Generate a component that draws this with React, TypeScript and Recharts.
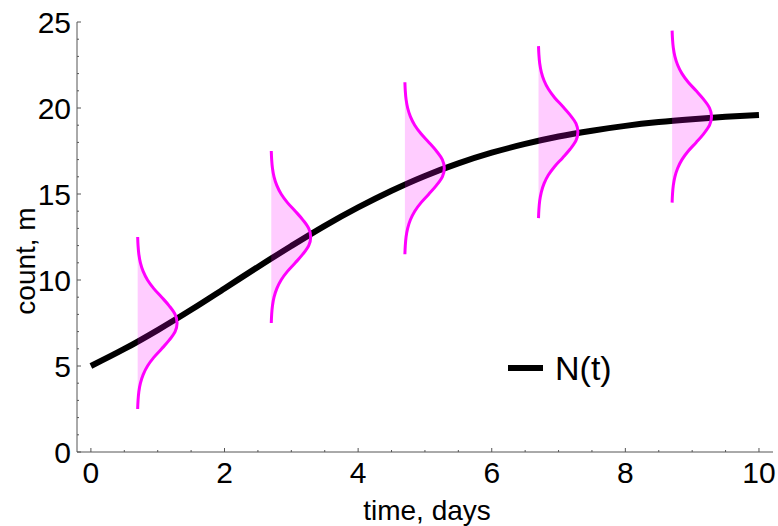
import React from 'react';
import { ComposedChart, Line, Scatter, XAxis, YAxis, Legend, Curve } from 'recharts';

// N(t) curve
const days = [0, 0.5, 1, 1.5, 2, 2.5, 3, 3.5, 4, 4.5, 5, 5.5, 6, 6.5, 7, 7.5, 8, 8.5, 9, 9.5, 10];
const counts = [5.0, 5.99, 7.09, 8.27, 9.51, 10.76, 11.98, 13.15, 14.22, 15.19, 16.05, 16.78, 17.4, 17.91, 18.34, 18.68, 18.96, 19.18, 19.35, 19.49, 19.6];

// distributions (magenta)
const distTimes = [0.7, 2.7, 4.7, 6.7, 8.7];
const distCenters = [7.5, 12.5, 16.5, 18.6, 19.5];
const distPeakWidth = 0.59;
const profileOffsets = [5, 4.5, 4, 3.5, 3, 2.5, 2, 1.5, 1, 0.5, 0, -0.5, -1, -1.5, -2, -2.5, -3, -3.5, -4, -4.5, -5];
const profileHeights = [0, 0.01, 0.03, 0.07, 0.14, 0.25, 0.41, 0.61, 0.8, 0.95, 1, 0.95, 0.8, 0.61, 0.41, 0.25, 0.14, 0.07, 0.03, 0.01, 0];

// ticks
const xTicks = [0, 0.5, 1, 1.5, 2, 2.5, 3, 3.5, 4, 4.5, 5, 5.5, 6, 6.5, 7, 7.5, 8, 8.5, 9, 9.5, 10];
const yTicks = [0, 1, 2, 3, 4, 5, 6, 7, 8, 9, 10, 11, 12, 13, 14, 15, 16, 17, 18, 19, 20, 21, 22, 23, 24, 25];

const curveData = days.map((t, i) => ({ t, v: counts[i] }));
const distData = distTimes.map((t0, k) =>
  profileOffsets.map((o, i) => ({ t: t0 + profileHeights[i] * distPeakWidth, v: distCenters[k] + o }))
);

const FONT = "'Liberation Sans', Arial, sans-serif";
const AXIS = '#555';

const YTick = (props: any) => {
  const { x, y, payload } = props;
  const v = payload.value;
  const major = v % 5 === 0;
  return (
    <g>
      <line x1={x} x2={x + (major ? 4 : 2)} y1={y} y2={y} stroke={AXIS} strokeWidth={1} />
      {major && (
        <text x={x - 6} y={y} dy="0.36em" textAnchor="end" fontSize={30} fontFamily={FONT} fill="#000">
          {v}
        </text>
      )}
    </g>
  );
};

const XTick = (props: any) => {
  const { x, y, payload } = props;
  const v = payload.value;
  const major = v % 2 === 0;
  return (
    <g>
      <line x1={x} x2={x} y1={y} y2={y - (major ? 4 : 2)} stroke={AXIS} strokeWidth={1} />
      {major && (
        <text x={x} y={y + 31} textAnchor="middle" fontSize={30} fontFamily={FONT} fill="#000">
          {v}
        </text>
      )}
    </g>
  );
};

const distLine = (p: any) => (
  <Curve points={p.points} type="monotoneY" fill="#ff00ff" fillOpacity={0.2} stroke="#ff00ff" strokeWidth={3} />
);

const LegendContent = (props: any) => {
  const items = (props.payload || []).filter((e: any) => e.type !== 'none');
  return (
    <div>
      {items.map((e: any) => (
        <div key={e.value} style={{ display: 'flex', alignItems: 'center', fontFamily: FONT, fontSize: 34, lineHeight: '38px', color: '#000' }}>
          <svg width={50} height={20} style={{ display: 'block' }}>
            <line x1={3} x2={38} y1={10} y2={10} stroke="#000" strokeWidth={6} />
          </svg>
          <span>{e.value}</span>
        </div>
      ))}
    </div>
  );
};

export default function App() {
  return (
    <div style={{ position: 'absolute', left: 0, top: 0 }}>
      <ComposedChart width={778} height={526} margin={{ top: 22, right: 5, left: 0, bottom: 0 }}>
        <XAxis
          dataKey="t"
          type="number"
          domain={[-0.208, 10.21]}
          allowDataOverflow
          ticks={xTicks}
          interval={0}
          tickLine={false}
          tickSize={0}
          tickMargin={0}
          tick={<XTick />}
          axisLine={{ stroke: AXIS, strokeWidth: 1 }}
          height={74}
          label={(p: any) => {
            const vb = p.viewBox;
            return (
              <text x={vb.x + vb.width / 2 + 2} y={vb.y + 68} textAnchor="middle" fontSize={28} fontFamily={FONT} fill="#000">
                time, days
              </text>
            );
          }}
        />
        <YAxis
          dataKey="v"
          type="number"
          domain={[0, 25]}
          allowDataOverflow
          ticks={yTicks}
          interval={0}
          tickLine={false}
          tickSize={0}
          tickMargin={0}
          tick={<YTick />}
          axisLine={{ stroke: AXIS, strokeWidth: 1 }}
          width={77}
          label={(p: any) => {
            const vb = p.viewBox;
            const cx = vb.x + 35;
            const cy = vb.y + vb.height / 2 + 24;
            return (
              <text x={cx} y={cy} transform={`rotate(-90, ${cx}, ${cy})`} textAnchor="middle" fontSize={28} fontFamily={FONT} fill="#000">
                count, m
              </text>
            );
          }}
        />
        <Line
          data={curveData}
          dataKey="v"
          name="N(t)"
          type="monotone"
          stroke="#000"
          strokeWidth={6}
          dot={false}
          activeDot={false}
          isAnimationActive={false}
        />
        {distData.map((d, k) => (
          <Scatter
            key={k}
            data={d}
            dataKey="v"
            legendType="none"
            shape={() => <g />}
            line={distLine}
            lineType="joint"
            isAnimationActive={false}
          />
        ))}
        <Legend
          layout="vertical"
          align="center"
          verticalAlign="middle"
          wrapperStyle={{ position: 'absolute', left: 505, top: 349, width: 'auto', height: 'auto' }}
          content={<LegendContent />}
        />
      </ComposedChart>
    </div>
  );
}
